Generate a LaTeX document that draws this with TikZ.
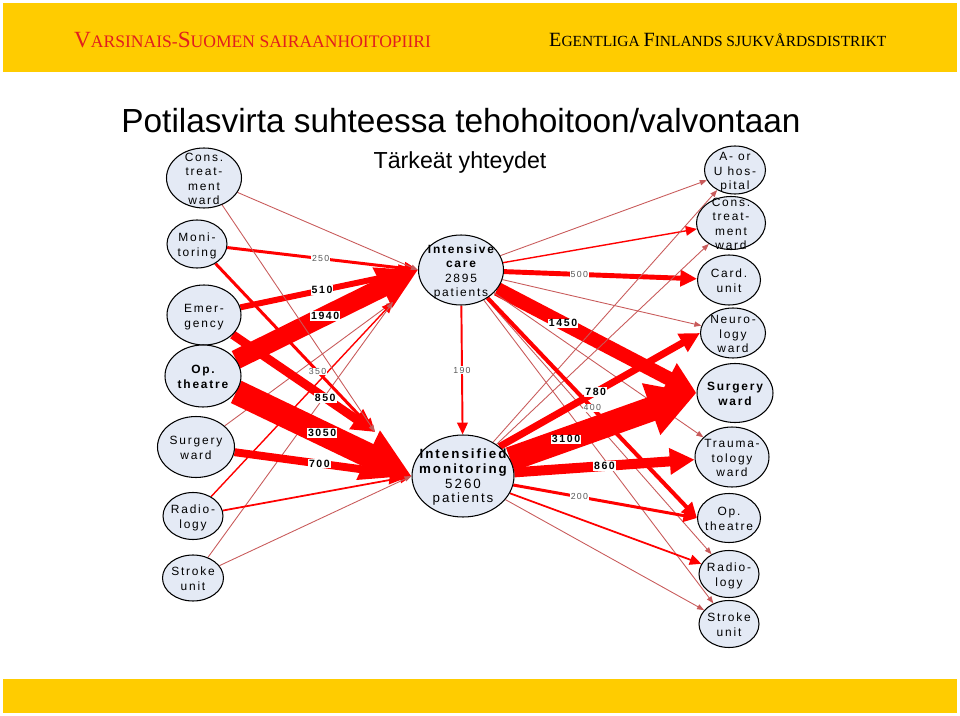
\documentclass[tikz,border=0pt]{standalone}
\usepackage{fontspec}
\setmainfont{Liberation Sans}
\newfontfamily\wardfont[LetterSpace=15]{Liberation Sans}
\newfontfamily\headfont{Liberation Serif}
\usetikzlibrary{positioning, shapes.geometric, arrows.meta, backgrounds}

\definecolor{banner}{RGB}{255,204,0}
\definecolor{wardfill}{RGB}{228,234,245}
\definecolor{flowred}{RGB}{255,0,0}
\definecolor{thinred}{RGB}{200,90,90}
\definecolor{headred}{RGB}{225,30,30}

\newcommand{\initcap}[1]{{\fontsize{11.5}{12}\selectfont #1}}
\newcommand{\redcap}[1]{{\fontsize{13.2}{14}\selectfont #1}}
\newcommand{\wardlines}[1]{\smash{\makebox[0pt]{\raisebox{-3pt}{\begin{tabular}{@{}c@{}}#1\end{tabular}}}}}

\begin{document}
\begin{tikzpicture}[
    x=0.02cm, y=-0.02cm,
    ward/.style 2 args={ellipse, draw, line width=0.6pt, fill=wardfill, inner sep=0pt,
        minimum width=#1, minimum height=#2, font=\wardfont\fontsize{6.8}{8}\selectfont},
    flow/.style={draw=flowred, line width=#1, -{Triangle[length=5pt 1.6, width=4pt 1.8]}},
    hair/.style={draw=thinred, line width=0.5pt, -{Triangle[length=4pt, width=3pt]}},
    num/.style={fill=white, inner sep=0.6pt, font=\wardfont\bfseries\fontsize{6}{6}\selectfont},
    smallnum/.style={fill=white, inner sep=0.4pt, text=black!65, font=\wardfont\fontsize{5}{5}\selectfont}
]
\useasboundingbox (0,0) rectangle (960,716);

% Banners
\fill[banner] (3,3) rectangle (957,72);
\fill[banner] (3,679) rectangle (957,713);
\node[anchor=west, text=headred, font=\headfont\fontsize{10}{11}\selectfont] (district) at (68,40)
    {\redcap{V}ARSINAIS-\redcap{S}UOMEN SAIRAANHOITOPIIRI};
\node[anchor=west, font=\headfont\fontsize{8.8}{9}\selectfont] (distriktet) at (543,40)
    {\initcap{E}GENTLIGA \initcap{F}INLANDS SJUKVÅRDSDISTRIKT};

% Titles
\node[font=\fontsize{19}{22}\selectfont] (title) at (461,121) {Potilasvirta suhteessa tehohoitoon/valvontaan};
\node[font=\fontsize{13.2}{15}\selectfont] (subtitle) at (460,163) {Tärkeät yhteydet};

% Wards before
\node[ward={1.5cm}{1.2cm}] (lcons) at (204,178) {\wardlines{Cons.\\treat-\\ment\\ward}};
\node[ward={1.2cm}{0.96cm}] (lmon) at (197,244) {\wardlines{Moni-\\toring}};
\node[ward={1.48cm}{1.2cm}] (lemer) at (204,315) {\wardlines{Emer-\\gency}};
\node[ward={1.52cm}{1.24cm}] (lop) at (203,376) {\wardlines{\bfseries Op.\\\bfseries theatre}};
\node[ward={1.54cm}{1.22cm}] (lsurg) at (196,447) {\wardlines{Surgery\\ward}};
\node[ward={1.2cm}{0.94cm}] (lrad) at (193,516) {\wardlines{Radio-\\logy}};
\node[ward={1.22cm}{0.92cm}] (lstroke) at (193,578) {\wardlines{Stroke\\unit}};

% Intensive care and intensified monitoring
\node[ward={1.7cm}{1.4cm}] (ic) at (461,270) {\wardlines{\bfseries Intensive\\\bfseries care\\2895\\patients}};
\node[ward={2.04cm}{1.64cm}, font=\wardfont\fontsize{7.6}{8.4}\selectfont] (im) at (463,476)
    {\wardlines{\bfseries Intensified\\\bfseries monitoring\\5260\\patients}};
\coordinate (icin) at (393,302);
\coordinate (imin) at (375,432);

% Wards after
\node[ward={1.22cm}{0.96cm}] (rau) at (735,170) {\wardlines{A- or\\U hos-\\pital}};
\node[ward={1.38cm}{1.06cm}] (rcons) at (731,223) {\wardlines{Cons.\\treat-\\ment\\ward}};
\node[ward={1.26cm}{1cm}] (rcard) at (729,280) {\wardlines{Card.\\unit}};
\node[ward={1.3cm}{1cm}] (rneuro) at (733,333) {\wardlines{Neuro-\\logy\\ward}};
\node[ward={1.52cm}{1.18cm}] (rsurg) at (735,393) {\wardlines{\bfseries Surgery\\\bfseries ward}};
\node[ward={1.48cm}{1.2cm}] (rtrauma) at (732,457) {\wardlines{Trauma-\\tology\\ward}};
\node[ward={1.26cm}{0.98cm}] (rop) at (729,518) {\wardlines{Op.\\theatre}};
\node[ward={1.2cm}{0.94cm}] (rrad) at (729,574) {\wardlines{Radio-\\logy}};
\node[ward={1.2cm}{0.94cm}] (rstroke) at (729,624) {\wardlines{Stroke\\unit}};

\begin{scope}[on background layer]
% Into intensive care
\draw[flow=11pt] (lop) -- node[num, pos=0.49] {1940} (ic.west);
\draw[flow=3.4pt] (lemer) -- node[num, pos=0.46] {510} (ic.west);
\draw[flow=1.7pt] (lmon) -- node[smallnum, pos=0.49] {250} (ic.west);
\draw[hair] (lcons) -- (ic.west);
\draw[hair] (lsurg) -- (icin);
\draw[flow=0.8pt] (lrad) -- (icin);
\draw[hair] (lstroke) -- (icin);

% Into intensified monitoring
\draw[flow=14pt] (lop) -- node[num, pos=0.49] {3050} (im.west);
\draw[flow=4.5pt] (lsurg) -- node[num, pos=0.48] {700} (im.west);
\draw[flow=5pt] (lemer) -- node[num, pos=0.65] {850} (imin);
\draw[flow=1.7pt] (lmon) -- node[smallnum, pos=0.64] {350} (imin);
\draw[hair] (lcons) -- (imin);
\draw[flow=1pt] (lrad) -- (im.west);
\draw[hair] (lstroke) -- (im.west);
\draw[flow=1.1pt] (ic) -- node[smallnum] {190} (im);

% Out of intensive care
\draw[flow=8pt] (ic) -- node[num, pos=0.33] {1450} (rsurg.west);
\draw[flow=2.8pt] (ic) -- node[smallnum, pos=0.39] {500} (rcard);
\draw[hair] (ic) -- (rau);
\draw[flow=0.8pt] (ic) -- (rcons);
\draw[hair] (ic) -- (rneuro);
\draw[hair] (ic) -- (rtrauma);
\draw[hair] (ic) -- (rrad);
\draw[hair] (ic) -- (rstroke);

% Out of intensified monitoring
\draw[flow=14pt] (im) -- node[num, pos=0.3] {3100} (rsurg.west);
\draw[flow=5.7pt] (im) -- node[num, pos=0.5] {860} (rtrauma);
\draw[flow=4pt] (im.north east) -- node[num, pos=0.48] {780} (rneuro.west);
\draw[flow=1.7pt] (im) -- node[smallnum, pos=0.36] {200} (rop.west);
\draw[hair] (im) -- (rau);
\draw[hair] (im) -- (rcons);
\draw[flow=1pt] (im) -- (rrad);
\draw[hair] (im) -- (rstroke);
\draw[flow=2.3pt] (ic) -- node[smallnum, pos=0.5] {400} (rop.west);
\end{scope}

\end{tikzpicture}
\end{document}
